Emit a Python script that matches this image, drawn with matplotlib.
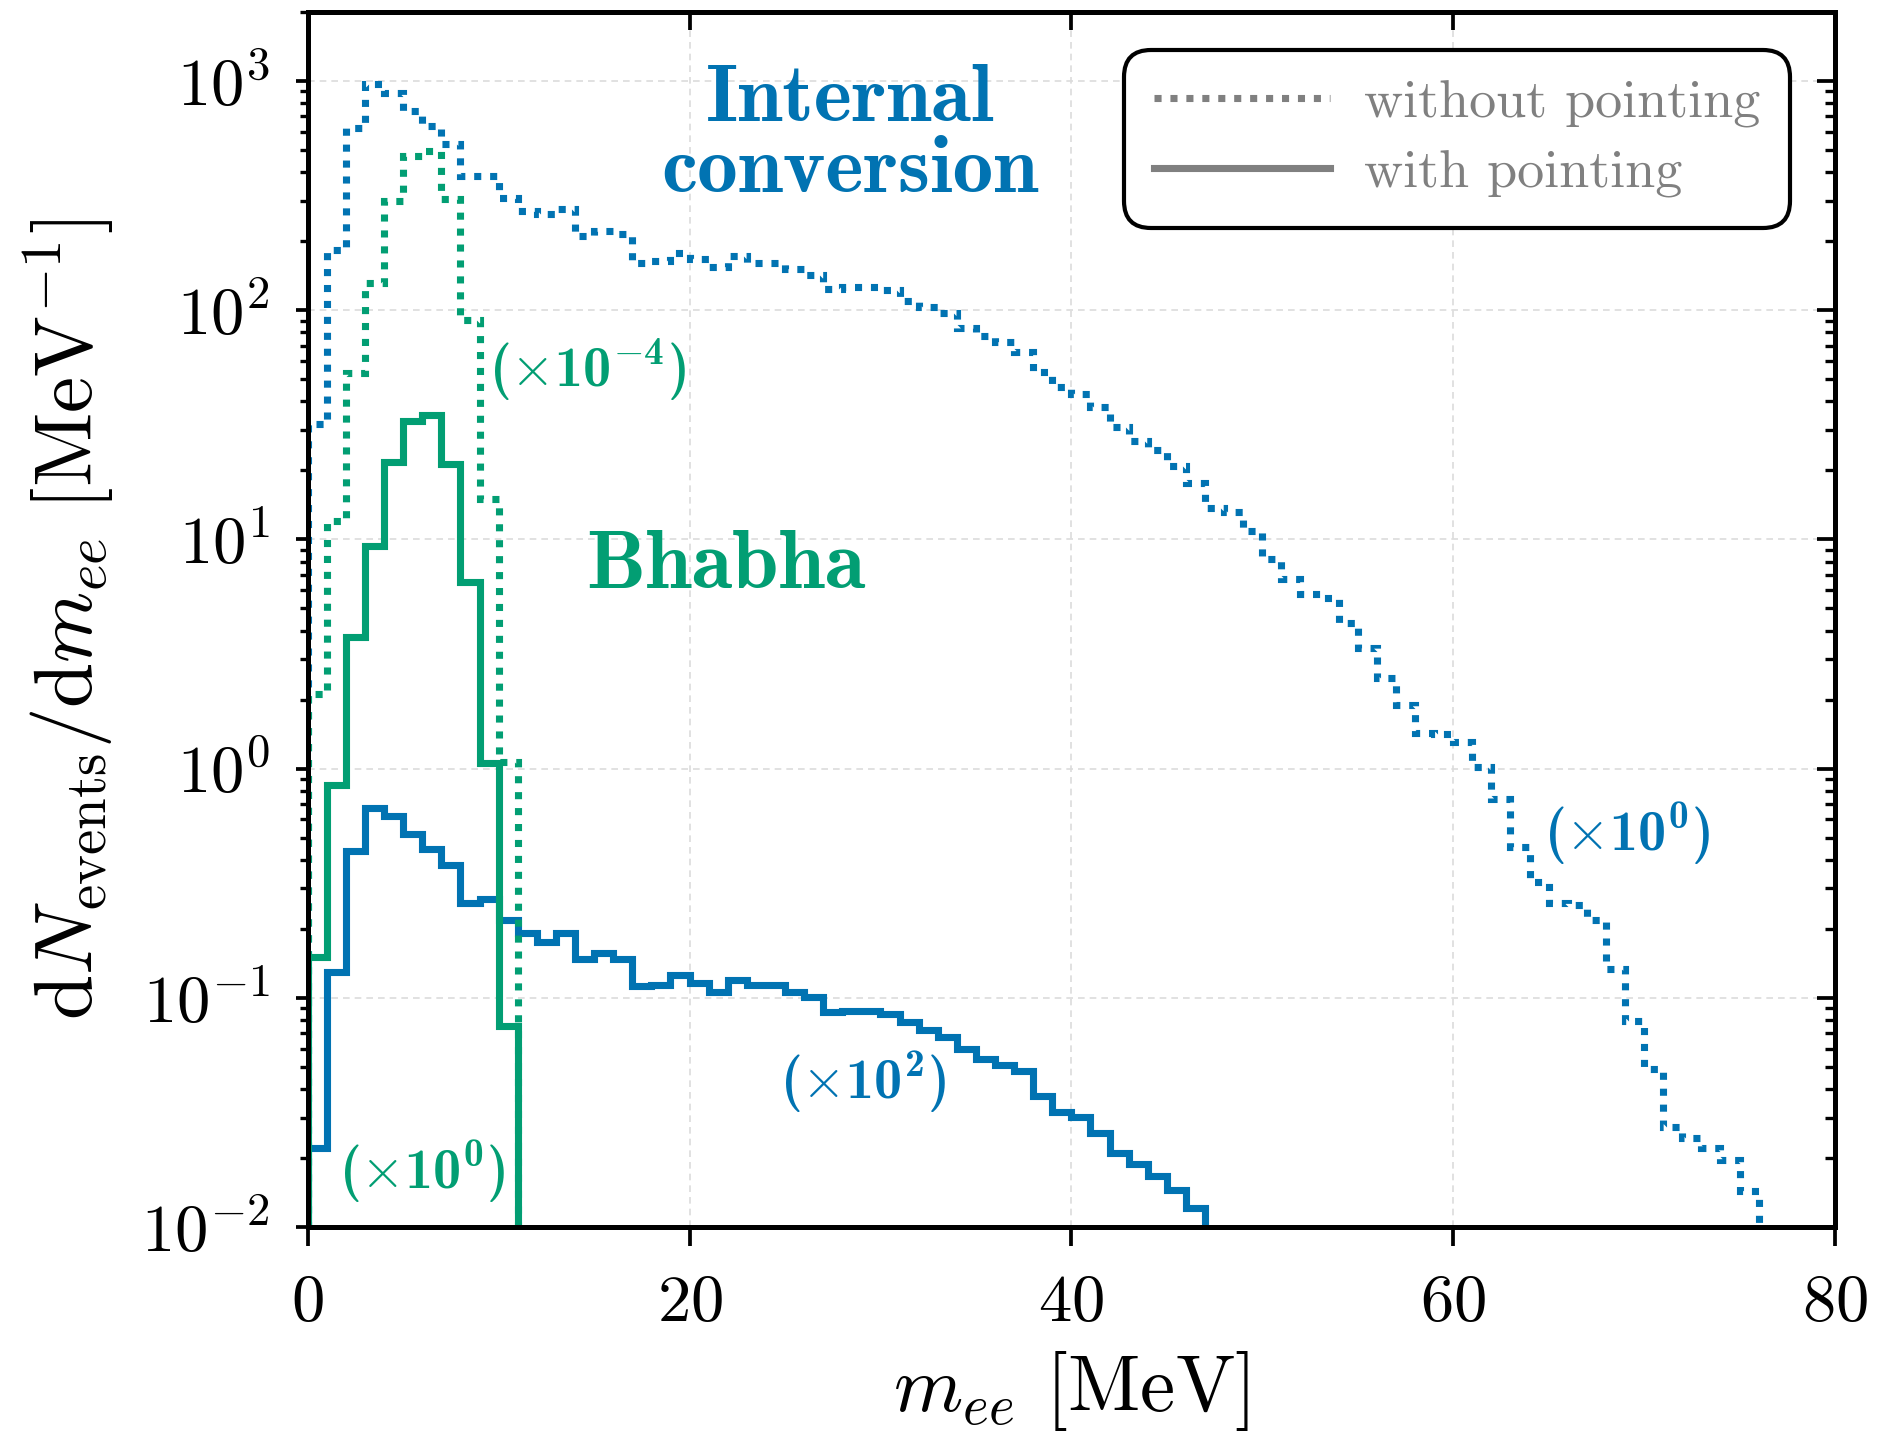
import numpy as np
import matplotlib
matplotlib.use("Agg")
import matplotlib.pyplot as plt
from matplotlib.lines import Line2D
from matplotlib.ticker import LogLocator, NullFormatter, FixedLocator, NullLocator

# ---------------- data (values as drawn, 1 MeV bins starting at 0) ----------------
bin_width_mev = 1.0

# Internal conversion, without pointing (x 10^0)
ic_without = [32, 184, 626, 975, 890, 740, 636, 529, 384, 384,
              309, 271, 262, 276, 211, 221, 214, 161, 164, 178,
              168, 154, 173, 161, 160, 151, 143, 124, 126, 126,
              122, 110, 103, 97, 84, 77, 73, 66, 54, 46,
              43, 38, 30.8, 27, 24.5, 21, 17.7, 13.7, 13.2, 10.9,
              8.2, 6.7, 5.75, 5.56, 4.3, 3.36, 2.49, 1.9, 1.43, 1.41,
              1.3, 1.02, 0.74, 0.455, 0.32, 0.258, 0.254, 0.218, 0.134, 0.079,
              0.049, 0.0274, 0.0245, 0.0222, 0.0196, 0.0143]

# Internal conversion, with pointing (x 10^2)
ic_with = [0.0222, 0.129, 0.438, 0.671, 0.621, 0.517, 0.445, 0.379, 0.259, 0.269,
           0.219, 0.192, 0.176, 0.192, 0.148, 0.157, 0.148, 0.113, 0.114, 0.126,
           0.116, 0.106, 0.120, 0.114, 0.114, 0.106, 0.101, 0.0868, 0.0877, 0.088,
           0.0854, 0.0785, 0.0722, 0.0675, 0.0596, 0.0542, 0.0507, 0.0477, 0.0374, 0.0316,
           0.0301, 0.0258, 0.0211, 0.0188, 0.0167, 0.0145, 0.0121]

# Bhabha, without pointing (x 10^-4)
bh_without = [2.11, 12.0, 53.3, 132, 299, 470, 495, 305, 91, 15.0, 1.07]

# Bhabha, with pointing (x 10^0)
bh_with = [0.15, 0.85, 3.75, 9.4, 21.8, 33, 34.8, 21.3, 6.5, 1.06, 0.075]

x_ticks = [0, 20, 40, 60, 80]
y_ticks = [1e-2, 1e-1, 1e0, 1e1, 1e2, 1e3]

blue = "#0173B2"
green = "#029E73"
grey = "#808080"

def edges_for(vals):
    return np.arange(len(vals) + 1) * bin_width_mev

# ---------------- style ----------------
plt.rcParams.update({
    "font.family": "serif",
    "font.serif": ["cmr10"],
    "mathtext.fontset": "cm",
    "mathtext.rm": "cmb10",
    "mathtext.bf": "cmb10",
    "mathtext.it": "cmb10",
    "mathtext.fallback": "cm",
    "axes.formatter.use_mathtext": True,
    "axes.unicode_minus": False,
})

W, H = 1877, 1435
fig = plt.figure(figsize=(W / 300, H / 300), dpi=300)
L, R, B, T = 307.7, 1835, 1227, 12
ax = fig.add_axes([L / W, 1 - B / H, (R - L) / W, (B - T) / H])

lw = 1.7
dot = (0, (1, 1.25))
base = 1e-5

ax.stairs(ic_without, edges_for(ic_without), baseline=base, color=blue, lw=lw,
          linestyle=dot, zorder=3)
ax.stairs(ic_with, edges_for(ic_with), baseline=base, color=blue, lw=lw,
          linestyle="-", zorder=4)
ax.stairs(bh_without, edges_for(bh_without), baseline=base, color=green, lw=lw,
          linestyle=dot, zorder=5)
ax.stairs(bh_with, edges_for(bh_with), baseline=base, color=green, lw=lw,
          linestyle="-", zorder=6)

ax.set_yscale("log")
ax.set_xlim(0, 80)
ax.set_ylim(1e-2, 2e3)
ax.xaxis.set_major_locator(FixedLocator(x_ticks))
ax.xaxis.set_minor_locator(NullLocator())
ax.yaxis.set_major_locator(FixedLocator(y_ticks))
ax.yaxis.set_minor_locator(LogLocator(base=10, subs=np.arange(2, 10)))
ax.yaxis.set_minor_formatter(NullFormatter())

ax.grid(True, which="major", color="#dcdcdc", lw=0.4, ls=(0, (4, 3)), zorder=0)
for s in ax.spines.values():
    s.set_linewidth(1.2)

ax.tick_params(axis="y", which="major", direction="out", length=3.0, width=0.9,
               labelsize=16, pad=6)
ax.tick_params(axis="y", which="minor", direction="out", length=2.0, width=0.8)
ax.tick_params(axis="x", which="major", direction="out", length=4.5, width=0.9,
               labelsize=16, pad=7)

# secondary (inward) ticks on the right and top
axr = ax.twinx()
axr.set_yscale("log")
axr.set_ylim(ax.get_ylim())
axr.yaxis.set_major_locator(FixedLocator(y_ticks))
axr.yaxis.set_minor_locator(LogLocator(base=10, subs=np.arange(2, 10)))
axr.tick_params(axis="y", which="major", direction="in", length=4.3, width=0.9,
                labelright=False)
axr.tick_params(axis="y", which="minor", direction="in", length=2.4, width=0.8,
                labelright=False)
axt = ax.twiny()
axt.set_xlim(ax.get_xlim())
axt.xaxis.set_major_locator(FixedLocator(x_ticks))
axt.xaxis.set_minor_locator(NullLocator())
axt.tick_params(axis="x", which="major", direction="in", length=4.3, width=0.9,
                labeltop=False)
for a in (axr, axt):
    for s in a.spines.values():
        s.set_linewidth(1.2)

ax.set_xlabel(r"$m_{ee}$ [MeV]", fontsize=19, labelpad=3.5)
ax.set_ylabel(r"$\mathrm{d}N_\mathrm{events}/\mathrm{d}m_{ee}\ [\mathrm{MeV}^{-1}]$",
              fontsize=19.5, labelpad=6)

# annotations
ax.text(0.355, 0.898, "Internal\nconversion", transform=ax.transAxes, ha="center",
        va="center", color=blue, fontsize=19.5, family="cmb10", linespacing=0.95,
        zorder=7)
ax.text(0.274, 0.543, "Bhabha", transform=ax.transAxes, ha="center", va="center",
        color=green, fontsize=20, family="cmb10", zorder=7)

scale_labels = [
    (0.183, 0.706, r"$(\times10^{-4})$", green),
    (0.075, 0.046, r"$(\times10^{0})$", green),
    (0.364, 0.120, r"$(\times10^{2})$", blue),
    (0.864, 0.324, r"$(\times10^{0})$", blue),
]
for xf, yf, s, c in scale_labels:
    ax.text(xf, yf, s, transform=ax.transAxes, ha="center", va="center", color=c,
            fontsize=13.5, math_fontfamily="custom", zorder=7)

handles = [Line2D([], [], color=grey, lw=lw, ls=dot),
           Line2D([], [], color=grey, lw=lw, ls="-")]
leg = ax.legend(handles, ["without pointing", "with pointing"], loc="upper right",
                bbox_to_anchor=(0.9705, 0.969), borderaxespad=0, fontsize=13,
                handlelength=3.25, handletextpad=0.62, labelspacing=0.4,
                borderpad=0.55, labelcolor=grey, fancybox=True, framealpha=1,
                edgecolor="black")
leg.get_frame().set_linewidth(1.0)
leg.get_frame().set_boxstyle("round", pad=0, rounding_size=0.5)
leg.set_zorder(10)

fig.savefig("out.png", dpi=300)
